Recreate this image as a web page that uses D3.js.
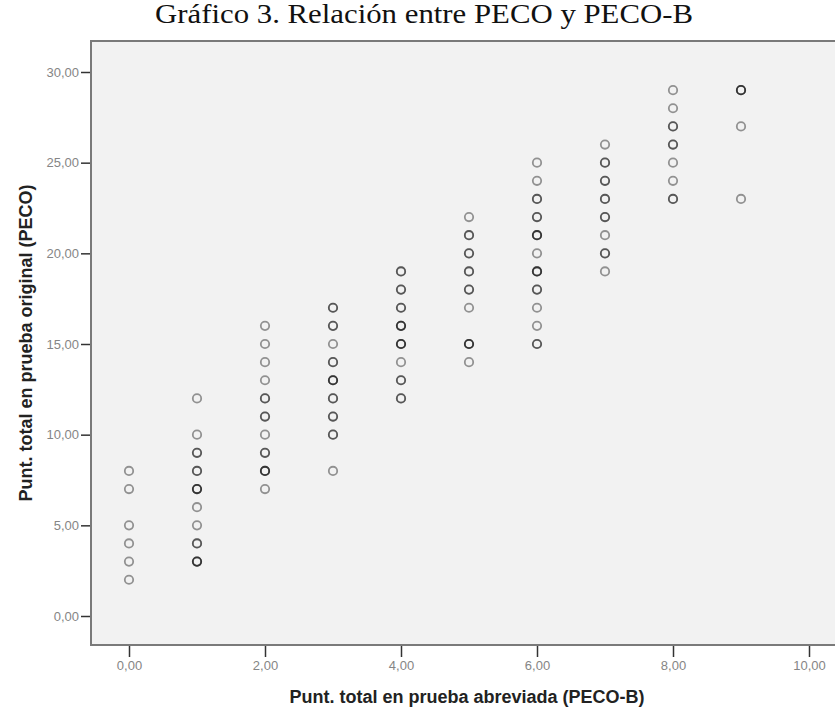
<!DOCTYPE html>
<html lang="es">
<head>
<meta charset="UTF-8">
<title>Gráfico 3. Relación entre PECO y PECO-B</title>
<script src="https://d3js.org/d3.v7.min.js"></script>
<style>
html, body { margin: 0; padding: 0; background: #fff; }
svg { display: block; }
.tick text { font-family: "Liberation Sans", Arial, sans-serif; font-size: 13px; fill: #858585; }
.tick line { stroke: #333; stroke-width: 1.5; }
.axis-title { font-family: "Liberation Sans", Arial, sans-serif; font-weight: bold; fill: #222; }
</style>
</head>
<body>
<script>
// PECO-B score (x), PECO score (y) and how many cases fall on that point
const pecoB = [
  0,0,0,0,0,0,
  1,1,1,1,1,1,1,1,1,
  2,2,2,2,2,2,2,2,2,2,
  3,3,3,3,3,3,3,3,3,
  4,4,4,4,4,4,4,4,
  5,5,5,5,5,5,5,5,
  6,6,6,6,6,6,6,6,6,6,6,
  7,7,7,7,7,7,7,7,
  8,8,8,8,8,8,8,
  9,9,9
];
const peco = [
  8,7,5,4,3,2,
  12,10,9,8,7,6,5,4,3,
  16,15,14,13,12,11,10,9,8,7,
  17,16,15,14,13,12,11,10,8,
  19,18,17,16,15,14,13,12,
  22,21,20,19,18,17,15,14,
  25,24,23,22,21,20,19,18,17,16,15,
  26,25,24,23,22,21,20,19,
  29,28,27,26,25,24,23,
  29,27,23
];
const freq = [
  1,1,1,1,1,1,
  1,1,2,2,3,1,1,2,3,
  1,1,1,1,2,2,1,2,3,1,
  2,2,1,2,3,2,2,2,1,
  2,2,2,3,3,1,2,2,
  1,2,2,2,2,1,3,1,
  1,1,2,2,3,1,3,2,1,1,2,
  1,2,2,2,2,1,2,1,
  1,1,2,2,1,1,2,
  3,1,1
];
const xTicks = [0, 2, 4, 6, 8, 10];
const yTicks = [0, 5, 10, 15, 20, 25, 30];

const W = 835, H = 712;
const frame = { left: 91, top: 41, right: 845, bottom: 645 };

const svg = d3.select('body').append('svg').attr('width', W).attr('height', H);

const x = d3.scaleLinear().domain([0, 10]).range([129, 809]);
const y = d3.scaleLinear().domain([0, 30]).range([616, 72]);
const fmt = d => d3.format('.2f')(d).replace('.', ',');

svg.append('text')
  .attr('x', 424).attr('y', 23)
  .attr('text-anchor', 'middle')
  .attr('textLength', 538).attr('lengthAdjust', 'spacingAndGlyphs')
  .style('font-family', '"Liberation Serif", "Times New Roman", serif')
  .style('font-size', '27px')
  .style('fill', '#111')
  .text('Gráfico 3. Relación entre PECO y PECO-B');

svg.append('rect')
  .attr('x', frame.left).attr('y', frame.top)
  .attr('width', frame.right - frame.left).attr('height', frame.bottom - frame.top)
  .attr('fill', '#f2f2f2').attr('stroke', '#7a7a7a').attr('stroke-width', 2);

const xAxis = svg.append('g')
  .attr('transform', 'translate(0,' + (frame.bottom + 1) + ')')
  .call(d3.axisBottom(x).tickValues(xTicks).tickFormat(fmt).tickSize(11).tickPadding(4));
xAxis.select('.domain').remove();

const yAxis = svg.append('g')
  .attr('transform', 'translate(' + (frame.left - 1) + ',0)')
  .call(d3.axisLeft(y).tickValues(yTicks).tickFormat(fmt).tickSize(9).tickPadding(2));
yAxis.select('.domain').remove();

// stack one ring per case so repeated points look darker
const rings = [];
pecoB.forEach((b, i) => {
  for (let k = 0; k < freq[i]; k++) rings.push({ b: b, p: peco[i] });
});

svg.append('g').selectAll('circle').data(rings).enter().append('circle')
  .attr('cx', d => x(d.b))
  .attr('cy', d => y(d.p))
  .attr('r', 4.2)
  .attr('fill', 'none')
  .attr('stroke', '#000')
  .attr('stroke-opacity', 0.4)
  .attr('stroke-width', 1.8);

svg.append('text')
  .attr('class', 'axis-title')
  .attr('x', 467).attr('y', 703)
  .attr('text-anchor', 'middle')
  .style('font-size', '18px')
  .text('Punt. total en prueba abreviada (PECO-B)');

svg.append('text')
  .attr('class', 'axis-title')
  .attr('transform', 'translate(32,' + 343 + ') rotate(-90)')
  .attr('text-anchor', 'middle')
  .style('font-size', '18px')
  .text('Punt. total en prueba original (PECO)');
</script>
</body>
</html>
